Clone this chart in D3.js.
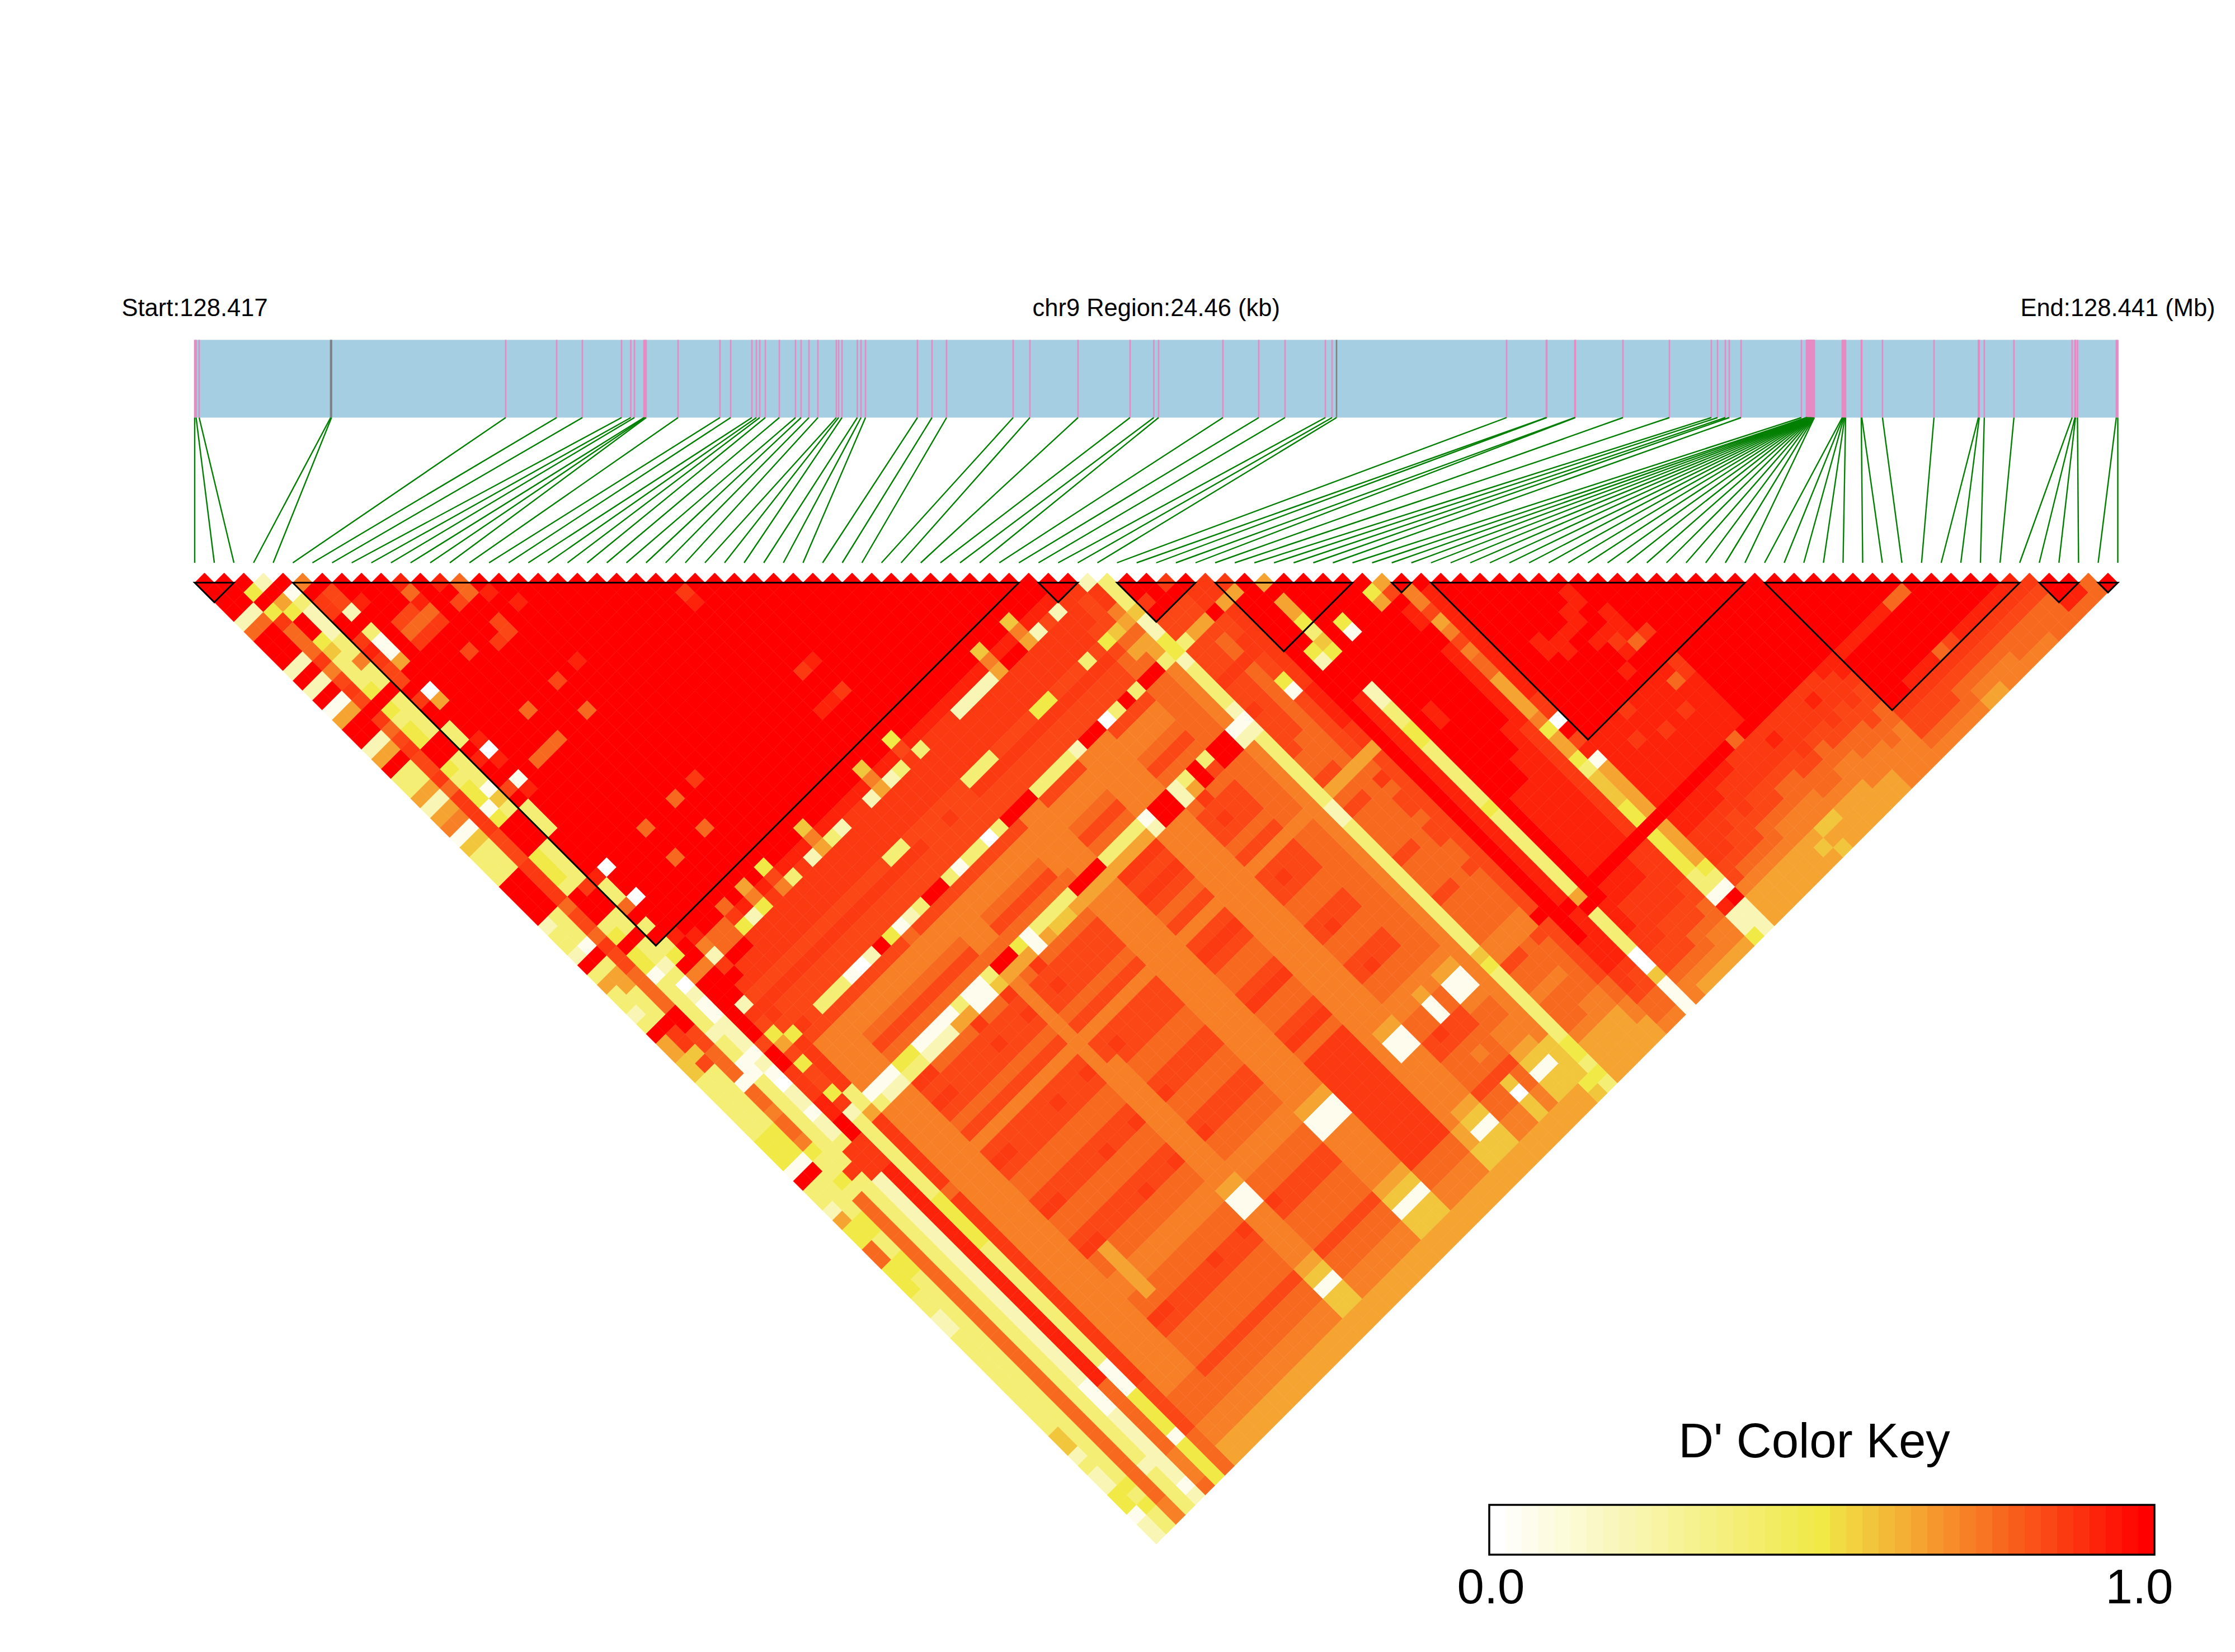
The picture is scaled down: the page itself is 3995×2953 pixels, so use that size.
<!DOCTYPE html>
<html><head><meta charset="utf-8">
<script src="https://cdn.jsdelivr.net/npm/d3@7"></script>
<style>html,body{margin:0;background:#fff}svg{display:block}text{font-family:"Liberation Sans",Arial,sans-serif;fill:#000}</style>
</head><body><div id="c"></div>
<script>
// SNP offsets from region start, in kb
const snpKb=[0,0.018,0.057,1.729,1.740,3.956,4.604,4.931,5.429,5.547,5.593,5.714,5.728,5.742,6.148,6.681,6.817,7.087,7.144,7.187,7.258,7.436,7.642,7.713,7.813,7.927,8.161,8.190,8.233,8.428,8.475,8.532,9.193,9.378,9.563,10.410,10.623,11.235,11.897,12.199,12.260,13.078,13.534,13.868,14.381,14.466,14.523,16.686,17.191,17.198,17.554,17.561,18.166,18.757,19.290,19.369,19.468,19.518,19.668,20.436,20.500,20.506,20.511,20.516,20.521,20.526,20.532,20.537,20.542,20.547,20.553,20.558,20.563,20.568,20.574,20.579,20.584,20.589,20.595,20.600,20.955,20.966,20.976,20.987,20.998,21.197,21.204,21.467,22.122,22.687,22.698,22.762,23.139,23.879,23.915,23.922,23.947,24.441,24.46];
const greySnps=[3,4,46];
const blocks=[[0,2],[5,42],[43,45],[47,51],[52,59],[61,62],[63,79],[80,93],[94,96],[97,98]];
const labels={start:"Start:128.417",mid:"chr9 Region:24.46 (kb)",end:"End:128.441 (Mb)",key:"D' Color Key",lo:"0.0",hi:"1.0"};
const regionKb=24.46;
// D' level code for each pair (row = left SNP, right-aligned so the last char is SNP 98)
const levelCodes="0123456789abc";
const levelValues=[0,.05,.2,.37,.5,.575,.64,.71,.76,.83,.87,.925,1];
const dPrimeRows=[
"cccc28ccc 2c2c16cc26 c336267153 33cccc2332 c363323c66 5533333344 41c3326448 8444332233 3333333355 232244122",
"ccc28ccc 2c2c16cc26 c336267153 33cccc3331 c366333caa 5933333344 41c3333443 3443333333 3333333333 333343433",
"c4c4a88 8a79a9ca89 a99a8aaaa9 99aaaa8998 a998888cc9 9888188788 7433438888 8888888888 8888888888 888888877",
"2c64cc 453334c434 4cc434414c cc4443ccc3 4c44133333 2331133333 3333a33333 3333333333 3333333333 333323333",
"c1322 233733c333 3cc333153c cc3333acc3 3c33230211 2221210221 223aaa2222 2222222222 2222222111 222222212",
"7caa ccaba99cac c33cbcc9c3 33ccccb338 c3c34c7ccc ccc9ccaaab bccaaabbbb bbbbbbbbbb bbbbbbbb88 888887778",
"c99 2c3116cc06 cccb0bc1bc cccccc0cc0 cccbcc7ccc 2a94694994 a233333333 4444433333 3333333111 444414444",
"cc bccccccccc cccccccccc cccccccccc ccccb72aca 9aa94aaaaa 336aaaaaaa 8aaaaaaaaa aaaaaaaaaa 999998888",
"c ccc98acccc ccccccc8cc cccccccccc ccccc88caa 9a99a97777 7137777777 7777777777 7777777777 778887766",
"ccc98acccc ccccccc8cc cccccccccc ccccc88caa 9a99997777 7127777777 7777777777 7777777777 778887766",
"b8b8acc9c cccc8cc8cc cccccc8cc8 cccc8a4aaa 9a99397777 7127777777 7777777777 7777777777 778887766",
"cccccccc cccccccccc cccccccccc cccccb2aaa 9a99397789 843a9a9897 9a9889a889 a887788a98 889887766",
"bc9ccca cccccccccc cccccccccc cccc674aaa 9a99397789 843a9a9897 9a9889a889 a666668a98 889887766",
"88cc99 cccc9cc8cc cccccc8cc8 cccccbaaaa 9a99197789 8128999897 9998899889 9887788998 889887766",
"cbccc cccccccccc cccccccccc cccc497aaa 9a99097789 8128999897 9998899889 9887788998 889887766",
"ccbc ccccbccccc ccccccaccc cccccb3aaa 9a99297789 8128999897 9998899889 9887788998 889887766",
"ccc cccccccccc cccccccccc cccccbaaaa 9a99c97789 8168999897 9998899889 9887788998 889887766",
"cc cccccccccc cccccccccc cccccb2aaa 9a99497789 836a9a9897 9a9889a889 a887788a98 889887766",
"c cccccccccc cccccccccc cccc576aaa 9a99187789 8118999897 9998899889 9887788998 889887766",
"cccccccccc cccccccccc cccccb3aaa 9a99297789 8118999897 9998899889 9887788998 889887766",
"ccccccccc cccccccccc cccccb2aaa 9a99397789 835a9a9897 9a9889a889 a887788a98 889887766",
"cccccccc cccccccccc cccccbaaaa 3a99c97777 8c67777777 7777777777 7777611777 776515566",
"ccccccc cccccccccc cccccbaaaa 3a99c97777 8c68999897 9977777777 7777611777 776515566",
"cccccc cccccccccc cccccb2aaa 9a99397789 846a9a9897 9a9889a889 a887788a98 889887766",
"cabcc cccccccccc cccc576aaa 9999197789 8118999897 9998899889 9887788998 889887766",
"cccc cccccccccb cccccb2aaa 9999397789 8368999897 9998899889 9887788998 889887766",
"ccc ccccccaccb cccccb3aaa 9a99397789 8358999897 9998899889 9887788998 889887766",
"cc ccccccbcca cccc49aaaa 9999097789 8358999897 9998899889 9887788998 889887766",
"c cccccccccc cccccb3aaa 9999397789 8368999897 9998899889 9887788998 889887766",
"cccccccccc cccccbaaaa 3a99c97777 8c67777777 7777777777 7777611777 776515566",
"ccccccccc cccccbaaaa 3a99c77777 7c67777777 7777777777 7777611777 776515566",
"cccccccc cccccbaaaa 3a99c77777 7c67777777 7777777777 7777611777 776515566",
"ccccccc cccccb2aaa 9a99397789 836a9a9897 9a9889a889 a8aaaaaaaa aaa887766",
"cccccc cccccb2aaa 9a99397789 836a9a9897 9a9889a889 a8aaaaaaaa aaa887766",
"ccccc cccccb2aaa 9a99397789 836a9a9897 9a9889a889 a8aaaaaaaa aaa887766",
"cccc cccccb2aaa 9a99397789 836a9a9897 9a9889a889 a8aaaaaaaa aaa887766",
"ccc cccc576aaa 4a99277777 7127777777 7777777777 7777777777 777665566",
"cc cccccbcaaa 4a99c77777 7cc7777777 7777777777 7777611777 776515566",
"c cccccbcaaa 9a99c77777 7cc7777777 7777777777 7777611777 776515566",
"cccc576aaa 9a99097789 8228999897 9998899889 9887788998 889887766",
"ccccb2aaa 9a99397789 836a9a9897 9a9889a889 a887788a98 889887766",
"cccb9aaa 3a99c97789 8cc8999897 9998899889 9887611998 789505566",
"ccb2aaa 9a99397789 8398999897 9998899889 9887788998 889887766",
"ccaaa9 4988c88888 8cc8888887 8888888888 8887611788 776515566",
"ca999 5868c88888 8cc8888887 8888888888 8887611788 776515566",
"2aa7 6866377777 7127777777 7777777777 7777777777 777555545",
"333 5224423333 2123333333 2233333333 3333354333 333344343",
"cc ac993999a9 9a99998896 8988889888 9888877988 788876666",
"c cc996999a9 9999988896 8988889888 9888877988 788876666",
"ac996988a8 8888888886 8888888888 8888877888 788776666",
"caac99aa9 9419999996 8a89989988 9888877988 888776666",
"aa6aaaaa aaabbbbaa6 9999999999 999999c999 999887766",
"a6ccccc cccccccccc cccccccccc cccccccccc bbbaa9887",
"cccccc c42cccbbbb bbbbbbbbbb bbbbbbbcbb bbba99887",
"6c664 354ccc2233 4433333343 33333336c3 333005111",
"cccc cccccccccc cccccccccc cccccccccb bbaa99877",
"ccc c41ccccccc bbcccccccb bbbbbbbcbb aaaa99876",
"cc cccccccccc cccccccccb bbbbbbbcbb aaa999876",
"c cccccccccc cccccccbbb bbbbbbbcbb aaa998876",
"c46ccccccc cccccbbbbb bbbbbbbcaa aaa998776",
"69cbbccbb bbbbbbaaaa aaaaaaacaa aa9988776",
"c7796797 8866667466 4355544c44 44331b224",
"cbbbbbb bbbbbaa0c9 b166666c66 66431c222",
"cccccc cccccccccc bbbbbbbcbb aaa997666",
"ccccc cccccccccc bbbbbbbcbb aaa987666",
"cccc ccbbcccccc bbabbbbcbb aa9987666",
"ccc cccbbccccc abbbbbbcbb a99987666",
"cc cccbcccccc bbbabbbcba aa9887666",
"c ccbbcbccbc bbbbbbbcba a99877666",
"cbbccbabcc bbbabbbcaa a99877656",
"cccbbb8cc b8bbbbb8aa a98877565",
"cccccacc aabbbbbcaa a98877566",
"ccccccc ccccccccab a99887666",
"cccccc ccccccccaa aa9887666",
"ccccc ccccccccaa a98877666",
"cccc ccccccccaa a99877766",
"ccc ccccccccab aa9887766",
"cc ccccccccaa a99887777",
"c ccccccccba aa9988777",
"ccccccccbb a99887777",
"cccccccbc cccca9987",
"ccccccbc cccca9987",
"cccccbc cccba9987",
"ccccbc cccba9987",
"cccbc cccba9887",
"cc8c ccc8a9876",
"c8c ccc9a9876",
"cc cccba9877",
"c cccba9877",
"cccba9887",
"ccba9887",
"cba9887",
"ba9888",
"a9888",
"ccb8",
"cb8",
"88",
"c"
];
const keyStops=[0,.5,1], keyColours=["#ffffff","#f0e946","#ff0000"], keyBins=41;

const W=3995,H=2953;
const svg=d3.select("#c").append("svg").attr("width",W).attr("height",H);
const x=d3.scaleLinear().domain([0,snpKb.length-1]).range([348,3785.5]);
const kb=d3.scaleLinear().domain([0,regionKb]).range([348,3785.5]);
const step=x(1)-x(0);
const y=d3.scaleLinear().domain([1,98]).range([1041.5,1041.5+97*step/2]);
const ramp=d3.scaleLinear().domain(keyStops).range(keyColours);
const binned=v=>ramp(Math.min(keyBins-1,Math.floor(v*keyBins))/(keyBins-1));

// gene bar
const barTop=607.5,barBot=746.5,linkBot=1006;
svg.append("rect").attr("x",x(0)).attr("y",barTop).attr("width",x(98)-x(0)).attr("height",barBot-barTop).attr("fill","#a6cee3");
svg.append("g").selectAll("rect").data(snpKb).join("rect")
 .attr("x",d=>kb(d)-1.3).attr("y",barTop).attr("width",2.6).attr("height",barBot-barTop)
 .attr("fill",(d,i)=>greySnps.includes(i)?"#808080":"#e78ac3");
svg.append("g").selectAll("line").data(snpKb).join("line")
 .attr("x1",d=>kb(d)).attr("y1",barBot).attr("x2",(d,i)=>x(i)).attr("y2",linkBot)
 .attr("stroke","#007f00").attr("stroke-width",2.4);

// heatmap
const cells=[];
dPrimeRows.forEach((r,i)=>{
  const s=r.replace(/ /g,"");
  const off=snpKb.length-s.length;
  [...s].forEach((c,k)=>cells.push({i,j:off+k,v:levelValues[levelCodes.indexOf(c)]}));
});
const hw=step/2;
svg.append("g").selectAll("path").data(cells).join("path")
 .attr("d",d=>{const cx=x((d.i+d.j)/2),cy=y(d.j-d.i);return `M${cx},${cy-hw}L${cx+hw},${cy}L${cx},${cy+hw}L${cx-hw},${cy}Z`;})
 .attr("fill",d=>binned(d.v)).attr("stroke",d=>binned(d.v)).attr("stroke-width",.5);

// haplotype blocks
svg.append("g").selectAll("path").data(blocks).join("path")
 .attr("d",([a,b])=>`M${x(a)},${y(1)}L${x(b)},${y(1)}L${x((a+b)/2)},${y(1+b-a)}Z`)
 .attr("fill","none").attr("stroke","#000").attr("stroke-width",3);

// header
const tY=565;
[[labels.start,x(0)],[labels.mid,x(49)],[labels.end,x(98)]].forEach(([t,px])=>
 svg.append("text").attr("x",px).attr("y",tY).attr("text-anchor","middle").attr("font-size",43.5).text(t));

// colour key
const kx=d3.scaleLinear().domain([0,keyBins]).range([2662,3851]);
const kTop=2690,kBot=2779;
svg.append("g").selectAll("rect").data(d3.range(keyBins)).join("rect")
 .attr("x",d=>kx(d)).attr("y",kTop).attr("width",kx(1)-kx(0)+.5).attr("height",kBot-kTop)
 .attr("fill",d=>ramp(d/(keyBins-1)));
svg.append("rect").attr("x",kx(0)).attr("y",kTop).attr("width",kx(keyBins)-kx(0)).attr("height",kBot-kTop)
 .attr("fill","none").attr("stroke","#000").attr("stroke-width",3.5);
svg.append("text").attr("x",3243).attr("y",2605).attr("text-anchor","middle").attr("font-size",87).text(labels.key);
svg.append("text").attr("x",2665).attr("y",2866).attr("text-anchor","middle").attr("font-size",87).text(labels.lo);
svg.append("text").attr("x",3824).attr("y",2866).attr("text-anchor","middle").attr("font-size",87).text(labels.hi);
</script></body></html>
